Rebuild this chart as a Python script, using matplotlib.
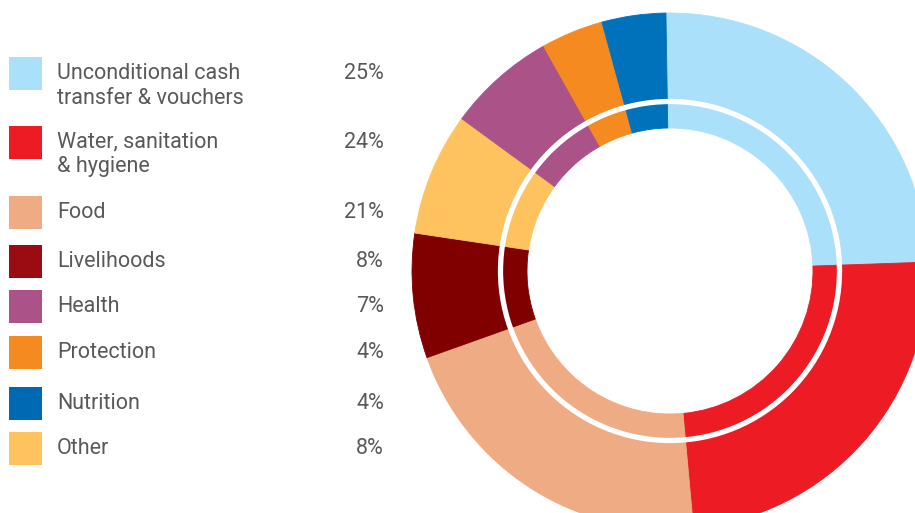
import matplotlib
matplotlib.use("Agg")
import matplotlib.pyplot as plt
from matplotlib.patches import Rectangle, Circle

# legend entries (in legend order)
legend_labels = ["Unconditional cash\ntransfer & vouchers", "Water, sanitation\n& hygiene", "Food",
                 "Livelihoods", "Health", "Protection", "Nutrition", "Other"]
legend_pct = [25, 24, 21, 8, 7, 4, 4, 8]
legend_colors = ["#abe0fa", "#ed1c24", "#efab83", "#9b0c12", "#ab5388", "#f58b20", "#0069b4", "#fec35f"]

# ring slices (clockwise from 12 o'clock), shares
ring_names = ["Unconditional cash", "Water, sanitation", "Food", "Livelihoods", "Other",
              "Health", "Protection", "Nutrition"]
ring_values = [24.7, 24.1, 21.0, 7.8, 7.7, 6.8, 3.9, 4.0]
ring_colors = ["#abe0fa", "#ed1c24", "#efab83", "#800000", "#fec35f", "#ab5388", "#f58b20", "#0072bb"]

W, H = 915, 513
fig = plt.figure(figsize=(W / 100, H / 100), dpi=100)
plt.rcParams['font.family'] = ['Roboto', 'DejaVu Sans']
text_color = "#58595b"

## Legend, drawn in pixel coordinates
lax = fig.add_axes([0, 0, 1, 1], frameon=False)
lax.set_xlim(0, W)
lax.set_ylim(H, 0)
lax.set_xticks([]); lax.set_yticks([])

row_y = [73.5, 142, 212.5, 261.5, 306.5, 352.5, 403.5, 448.5]
sq = 33
for y, lab, pct, col in zip(row_y, legend_labels, legend_pct, legend_colors):
    lax.add_patch(Rectangle((9, y - sq / 2), sq, sq, facecolor=col, edgecolor="none"))
    lines = lab.split("\n")
    for i, line in enumerate(lines):
        lax.text(57, y + i * 24.5, line, fontsize=15.5, color=text_color, va="center", ha="left")
    lax.text(384, y, f"{pct}%", fontsize=15.5, color=text_color, va="center", ha="right")

## Donut
cx, cy, R = 670, 271, 258
pax = fig.add_axes([(cx - R) / W, (H - cy - R) / H, 2 * R / W, 2 * R / H], frameon=False)
wedges, _ = pax.pie(ring_values, colors=ring_colors, startangle=90.9, counterclock=False,
                    radius=1, wedgeprops=dict(width=(R - 143) / R, linewidth=0.6))
for w in wedges:
    w.set_edgecolor(w.get_facecolor())
    w.set_clip_on(False)
# white separator circle between outer and inner band
pax.add_patch(Circle((0, 0), 169.5 / R, fill=False, edgecolor="white", linewidth=3.8, clip_on=False))
pax.set_xlim(-1, 1); pax.set_ylim(-1, 1)
pax.set_xticks([]); pax.set_yticks([])
pax.set_aspect("equal")

plt.savefig("out.png", dpi=100)
